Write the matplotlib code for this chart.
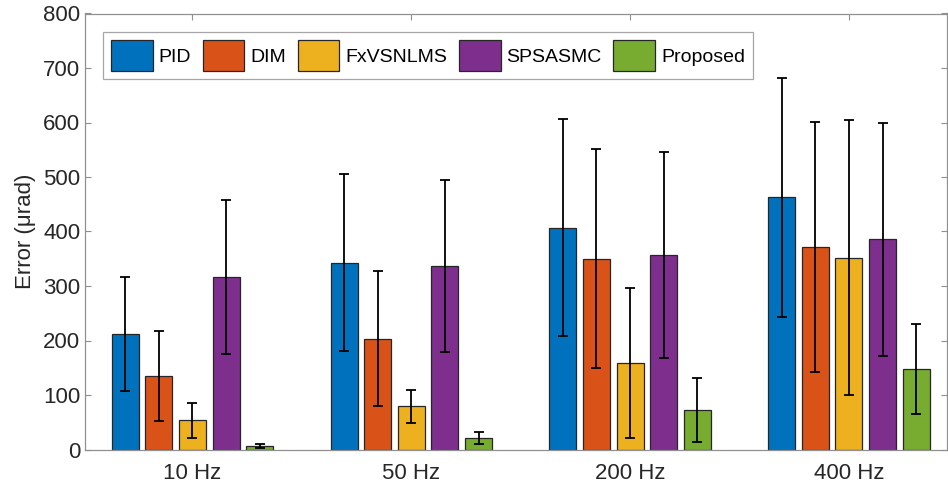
import numpy as np
import matplotlib.pyplot as plt

# category labels and methods
freqs = ['10 Hz', '50 Hz', '200 Hz', '400 Hz']
methods = ['PID', 'DIM', 'FxVSNLMS', 'SPSASMC', 'Proposed']
colors = ['#0072BD', '#D95319', '#EDB120', '#7E2F8E', '#77AC30']

# mean error per method (rows) and frequency (cols)
pid_mean = [212, 343, 407, 463]
dim_mean = [135, 203, 350, 372]
fxv_mean = [54, 79, 159, 352]
sps_mean = [316, 336, 357, 386]
prop_mean = [7, 22, 73, 148]

# symmetric error bar half-lengths
pid_std = [105, 163, 199, 219]
dim_std = [83, 124, 201, 229]
fxv_std = [32, 30, 137, 252]
sps_std = [141, 158, 189, 214]
prop_std = [3.5, 11, 58.5, 82]

means = [pid_mean, dim_mean, fxv_mean, sps_mean, prop_mean]
stds = [pid_std, dim_std, fxv_std, sps_std, prop_std]

plt.rcParams['font.family'] = ['Liberation Sans', 'DejaVu Sans']

fig = plt.figure(figsize=(9.48, 4.87), dpi=100)
ax = fig.add_axes([85/948, 37.5/487, 862/948, 436/487])

x = np.arange(1, len(freqs) + 1)
pitch = 0.1537
width = 0.1234
for i, m in enumerate(methods):
    xs = x + (i - 2) * pitch
    ax.bar(xs, means[i], width, color=colors[i], edgecolor='#262626', linewidth=0.9,
           label=m, zorder=2)
    ax.errorbar(xs, means[i], yerr=stds[i], fmt='none', ecolor='black',
                elinewidth=1.3, capsize=3.6, capthick=1.3, zorder=3)

ax.set_xlim(0.509, 4.448)
ax.set_ylim(0, 800)
ax.set_yticks(np.arange(0, 801, 100))
ax.set_xticks(x)
ax.set_xticklabels(freqs)
ax.set_ylabel('Error (μrad)', fontsize=16, color='#262626', labelpad=5)

ax.tick_params(axis='both', direction='in', length=4, width=0.8, colors='#909090',
               labelcolor='#262626', labelsize=16, top=True, right=True)
ax.tick_params(axis='x', pad=10)
for s in ax.spines.values():
    s.set_color('#909090')
    s.set_linewidth(0.9)

leg = ax.legend(ncol=5, loc='upper left', bbox_to_anchor=(18/862, 1 - 18.5/436),
                fontsize=14, frameon=True, fancybox=False, edgecolor='#909090',
                handlelength=2.15, handleheight=2.1, handletextpad=0.3,
                columnspacing=0.6, borderpad=0.4, borderaxespad=0)
leg.get_frame().set_linewidth(0.9)

fig.savefig('out.png', dpi=100)
